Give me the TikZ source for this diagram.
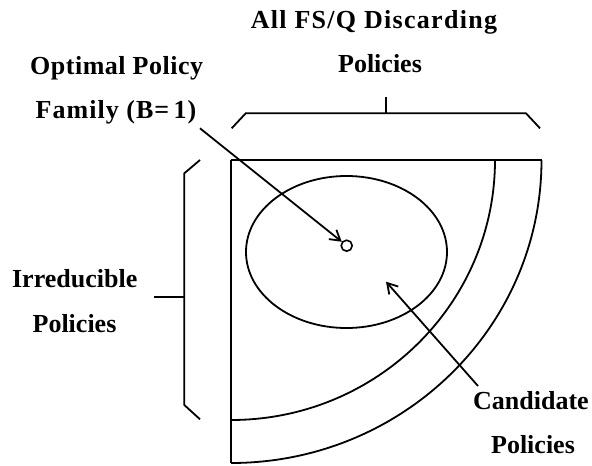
\documentclass[tikz,border=0pt]{standalone}
\usepackage{fontspec}
\setmainfont{Liberation Serif}
\usetikzlibrary{arrows.meta}
\begin{document}
\begin{tikzpicture}[x=1pt,y=-1pt, line width=1.8pt, line cap=butt, line join=miter,
  lbl/.style={font=\bfseries\fontsize{26}{30}\selectfont, inner sep=0pt, anchor=base},
  arr/.style={-{Straight Barb[length=10pt,width=12pt]}}]
\useasboundingbox (0,0) rectangle (592,466);
% quadrant
\draw (231,160) -- (541.5,160);
\draw (231,160) -- (231,463);
\draw (541.5,160) arc[start angle=0, end angle=90, x radius=310.5, y radius=303];
\draw (495,160) arc[start angle=0, end angle=90, x radius=264, y radius=260];
\draw (346.5,252) ellipse [x radius=100.5, y radius=76];
\node[circle, draw, minimum size=11pt, inner sep=0pt, line width=1.6pt] (dot) at (346.7,245.7) {};
% brackets
\draw (231.7,128.3) -- (245.7,113.3) -- (526,113.3) -- (540,128.3);
\draw (386,113.3) -- (386,97.3);
\draw (200,160) -- (184.3,173.3) -- (184.3,405) -- (200,419.3);
\draw (184.3,296.7) -- (154,296.7);
% labels
\node[lbl] (t1) at (374,28) {\addfontfeature{LetterSpace=5}All FS/Q Discarding};
\node[lbl] (t2) at (380,72) {Policies};
\node[lbl] (t3) at (116.7,74) {\addfontfeature{LetterSpace=2}Optimal Policy};
\node[lbl] (t4) at (116,118) {\addfontfeature{LetterSpace=4}Family (B=\,1)};
\node[lbl] (t5) at (74.7,287) {Irreducible};
\node[lbl] (t6) at (74.5,332.7) {Policies};
\node[lbl] (t7) at (531,409) {Candidate};
\node[lbl] (t8) at (533,453) {Policies};
% arrows
\coordinate (a1) at (200,128.3);
\draw[arr] (a1) -- (dot);
\coordinate (a2s) at (478,386);
\coordinate (a2e) at (386,281.7);
\draw[arr] (a2s) -- (a2e);
\end{tikzpicture}
\end{document}
